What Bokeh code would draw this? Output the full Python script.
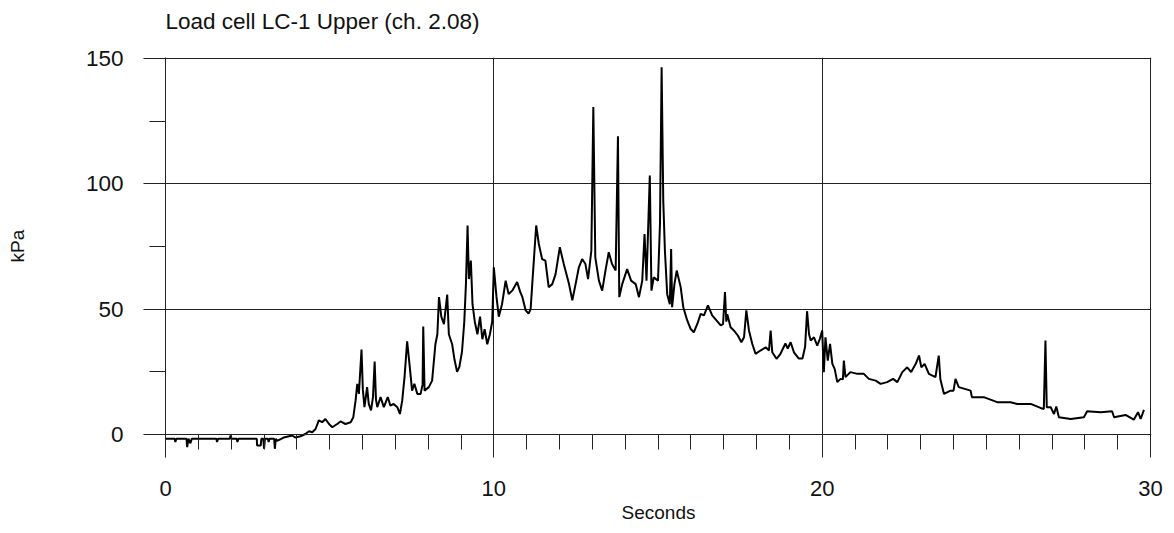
from bokeh.plotting import figure
from bokeh.models import Range1d, FixedTicker, LinearAxis, Title
from bokeh.embed import file_html
from bokeh.resources import INLINE

seconds = [0.0, 0.28, 0.3, 0.33, 0.64, 0.66, 0.7, 0.76, 0.8, 1.2, 1.55, 1.57, 1.6, 1.96, 1.98, 2.01,
           2.17, 2.19, 2.22, 2.78, 2.79, 2.9, 2.92, 2.98, 3.0, 3.03, 3.12, 3.14, 3.17, 3.31, 3.33,
           3.36, 3.4, 3.6, 3.86, 3.95, 4.11, 4.26, 4.37, 4.47, 4.57, 4.67, 4.77, 4.87, 4.98, 5.08,
           5.23, 5.33, 5.48, 5.64, 5.72, 5.79, 5.84, 5.89, 5.97, 6.01, 6.06, 6.14, 6.19, 6.26, 6.32,
           6.37, 6.41, 6.45, 6.55, 6.65, 6.77, 6.85, 6.95, 7.06, 7.14, 7.21, 7.28, 7.36, 7.44, 7.51,
           7.58, 7.67, 7.77, 7.83, 7.85, 7.89, 8.02, 8.12, 8.22, 8.28, 8.33, 8.4, 8.48, 8.58, 8.63,
           8.73, 8.8, 8.88, 8.95, 9.03, 9.1, 9.15, 9.2, 9.24, 9.3, 9.35, 9.42, 9.5, 9.58, 9.65, 9.72,
           9.8, 9.88, 9.95, 10.0, 10.08, 10.15, 10.25, 10.36, 10.45, 10.56, 10.71, 10.8, 10.87,
           10.97, 11.06, 11.12, 11.17, 11.29, 11.37, 11.47, 11.57, 11.67, 11.78, 11.88, 12.01,
           12.13, 12.29, 12.39, 12.49, 12.59, 12.69, 12.79, 12.87, 12.97, 13.03, 13.09, 13.2, 13.3,
           13.4, 13.5, 13.6, 13.71, 13.78, 13.82, 13.91, 14.06, 14.18, 14.32, 14.42, 14.52, 14.59,
           14.65, 14.75, 14.8, 14.87, 15.0, 15.06, 15.11, 15.16, 15.21, 15.28, 15.36, 15.4, 15.43,
           15.5, 15.57, 15.69, 15.77, 15.89, 15.99, 16.09, 16.2, 16.3, 16.4, 16.52, 16.65, 16.78,
           16.91, 16.98, 17.04, 17.08, 17.11, 17.21, 17.31, 17.43, 17.54, 17.62, 17.69, 17.77,
           17.87, 17.97, 18.12, 18.28, 18.38, 18.43, 18.48, 18.61, 18.73, 18.88, 18.95, 19.04,
           19.14, 19.29, 19.4, 19.48, 19.54, 19.6, 19.65, 19.75, 19.85, 19.93, 20.0, 20.05, 20.1,
           20.17, 20.24, 20.31, 20.38, 20.46, 20.56, 20.63, 20.66, 20.71, 20.86, 21.07, 21.27,
           21.42, 21.63, 21.78, 21.98, 22.16, 22.29, 22.44, 22.59, 22.71, 22.85, 22.95, 23.02,
           23.12, 23.25, 23.45, 23.55, 23.6, 23.71, 23.91, 24.0, 24.06, 24.16, 24.52, 24.56,
           24.92, 25.33, 25.74, 25.94, 26.35, 26.65, 26.75, 26.8, 26.84, 26.96, 27.06, 27.13,
           27.21, 27.57, 27.97, 28.07, 28.48, 28.83, 28.89, 29.24, 29.49, 29.62, 29.7, 29.8]

kpa = [-1.7, -1.7, -3.0, -1.7, -1.7, -5.0, -1.7, -3.5, -1.7, -1.7, -1.7, -3.0, -1.7, -1.7, -0.4, -1.7,
       -1.7, -3.0, -1.7, -1.7, -4.4, -4.4, -1.7, -1.7, -5.7, -1.7, -1.7, -3.0, -1.7, -1.7, -5.7,
       -1.7, -2.5, -1.2, -0.4, -1.2, -0.7, 0.2, 1.3, 0.9, 2.2, 5.6, 4.9, 6.2, 4.2, 2.9,
       4.2, 5.2, 4.2, 4.9, 6.9, 13.6, 20.2, 16.2, 33.9, 18.0, 10.9, 18.9, 12.2, 9.6, 15.0,
       29.1, 14.0, 10.9, 14.9, 10.9, 14.9, 11.5, 12.2, 10.9, 8.2, 13.6, 22.9, 37.2, 26.9, 17.5,
       20.2, 16.2, 16.2, 20.0, 43.1, 17.5, 18.9, 21.5, 36.0, 40.0, 54.8, 47.0, 44.0, 55.8, 40.0,
       36.0, 30.0, 25.0, 27.0, 33.0, 45.0, 60.0, 83.4, 62.0, 69.4, 52.0, 45.0, 40.0, 47.0, 38.0, 42.0,
       36.0, 40.0, 45.0, 66.7, 55.0, 47.0, 52.0, 61.4, 56.0, 57.4, 60.8, 57.0, 54.8,
       49.5, 48.2, 50.0, 60.0, 83.4, 76.0, 70.0, 69.4, 58.8, 60.0, 64.0, 74.7,
       68.0, 60.0, 53.5, 60.0, 66.7, 70.0, 68.0, 62.0, 73.4, 130.6, 70.7, 61.4, 57.4,
       65.4, 72.7, 68.0, 65.4, 119.0, 54.8, 60.0, 66.0, 61.4, 60.0, 54.8, 61.4, 80.0,
       61.4, 103.3, 57.4, 62.7, 61.4, 84.0, 146.5, 93.3, 73.4, 56.0, 52.0, 74.0, 50.8,
       60.0, 65.4, 58.8, 50.8, 45.5, 42.2, 40.8, 44.2, 48.1, 47.5, 51.5, 47.5, 45.5,
       43.5, 44.0, 56.8, 45.0, 48.0, 42.8, 41.5, 39.5, 36.8, 38.8, 49.5, 41.5,
       36.2, 32.2, 33.5, 34.8, 33.5, 41.5, 32.8, 30.2, 32.2, 36.3, 34.3, 36.8,
       32.8, 30.3, 30.3, 35.0, 49.2, 40.0, 37.5, 38.8, 35.5, 38.2, 41.5, 24.9, 38.8,
       29.5, 36.2, 28.2, 26.2, 20.9, 22.2, 22.0, 29.5, 22.9, 24.9, 24.2, 24.2,
       22.2, 21.5, 20.2, 20.9, 22.2, 20.9, 24.9, 26.8, 24.9, 28.2, 31.5, 26.8,
       28.2, 24.2, 22.9, 31.5, 22.0, 16.2, 17.5, 17.5, 22.2, 18.9, 17.5, 14.9,
       14.9, 12.9, 12.9, 12.2, 12.2, 10.6, 10.2, 37.5, 10.9, 10.9, 8.2, 11.2,
       6.9, 6.2, 6.9, 9.3, 8.9, 9.3, 6.9, 7.8, 5.9, 8.9, 6.2, 9.8]

x_major = [0, 10, 20, 30]
x_minor = list(range(0, 31))
y_major = [0, 50, 100, 150]
y_minor = [25, 75, 125]

FONT = "Liberation Sans"
INK = "#111111"
LINE = "#222222"

p = figure(width=1172, height=531, output_backend="svg", toolbar_location=None,
           x_range=Range1d(0, 30.03), y_range=Range1d(-9.17, 150.4),
           min_border_left=165, min_border_right=21, min_border_top=57, min_border_bottom=74,
           title="Load cell LC-1 Upper (ch. 2.08)")
p.outline_line_color = None
p.background_fill_color = "white"
p.border_fill_color = "white"

p.title.text_font = FONT
p.title.text_font_size = "22.5px"
p.title.text_font_style = "normal"
p.title.text_color = INK
p.title.align = "left"
p.title.standoff = 0

# spacer between title and frame
p.add_layout(Title(text=" ", text_font_size="1px", standoff=21), "above")

p.line(seconds, kpa, line_color="black", line_width=2)

# labels-only axis at the bottom of the frame
lab = p.xaxis[0]
lab.ticker = FixedTicker(ticks=x_major)
lab.axis_line_color = None
lab.major_tick_line_color = None
lab.minor_tick_line_color = None
lab.major_tick_out = 0
lab.major_tick_in = 0
lab.minor_tick_out = 0
lab.minor_tick_in = 0
lab.major_label_standoff = 23
lab.major_label_text_font = FONT
lab.major_label_text_font_size = "22px"
lab.major_label_text_color = INK
lab.axis_label = "Seconds"
lab.axis_label_text_font = FONT
lab.axis_label_text_font_size = "19px"
lab.axis_label_text_font_style = "normal"
lab.axis_label_text_color = INK
lab.axis_label_standoff = 3

# tick axis through zero
tk = LinearAxis(fixed_location=0, ticker=FixedTicker(ticks=x_major, minor_ticks=x_minor))
tk.major_tick_out = 23
tk.major_tick_in = 0
tk.minor_tick_out = 15
tk.minor_tick_in = 0
tk.axis_line_color = LINE
tk.major_tick_line_color = LINE
tk.minor_tick_line_color = LINE
tk.major_label_text_font_size = "0px"
tk.major_label_text_alpha = 0
p.add_layout(tk, "below")

ya = p.yaxis[0]
ya.ticker = FixedTicker(ticks=y_major, minor_ticks=y_minor)
ya.major_tick_out = 22
ya.major_tick_in = 0
ya.minor_tick_out = 16
ya.minor_tick_in = 0
ya.axis_line_color = LINE
ya.major_tick_line_color = LINE
ya.minor_tick_line_color = LINE
ya.major_label_standoff = 20
ya.major_label_text_font = FONT
ya.major_label_text_font_size = "22.5px"
ya.major_label_text_color = INK

p.xgrid.ticker = FixedTicker(ticks=[10, 20, 30])
p.ygrid.ticker = FixedTicker(ticks=[50, 100, 150])
for g in (p.xgrid[0], p.ygrid[0]):
    g.grid_line_color = LINE
    g.grid_line_width = 1
    g.grid_line_alpha = 1.0

# spacer between y axis and its title, then the title itself
p.add_layout(Title(text=" ", text_font_size="1px", standoff=52), "left")
ylab = Title(text="kPa", align="left", offset=195, text_font=FONT, text_font_size="19px",
             text_font_style="normal", text_color=INK, standoff=0)
p.add_layout(ylab, "left")

open("out.html", "w").write(file_html(p, INLINE))
